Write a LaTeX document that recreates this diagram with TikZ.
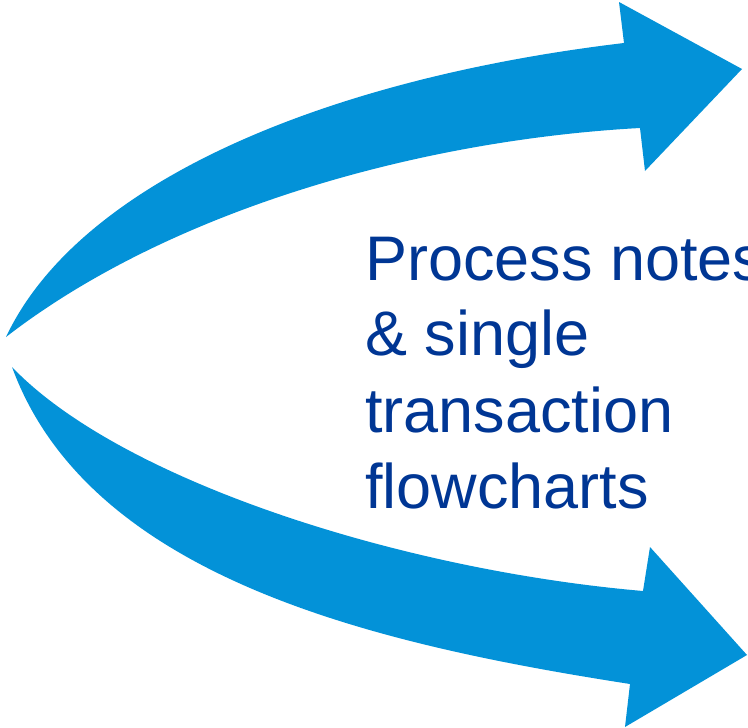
\documentclass[tikz,border=0pt]{standalone}
\usepackage{fontspec}
\setmainfont{Liberation Sans}
\definecolor{arrowblue}{RGB}{3,146,216}
\definecolor{textblue}{RGB}{0,54,148}
\begin{document}
\begin{tikzpicture}[x=1pt,y=-1pt,
  bigarrow/.style={fill=arrowblue,draw=none},
  label/.style={anchor=base west,inner sep=0pt,text=textblue,font=\fontsize{63}{76}\selectfont}]
\useasboundingbox (0,0) rectangle (748,728);
% top arrow
\fill[bigarrow] (6,337) .. controls (80,180) and (330,78) .. (624,43)
  -- (619,2) -- (742,69) -- (645,171) -- (640,128)
  .. controls (420,140) and (170,210) .. (6,337) -- cycle;
% bottom arrow
\fill[bigarrow] (12,367) .. controls (120,480) and (400,570) .. (643,591)
  -- (650,547) -- (747,655) -- (625,727) -- (630,684)
  .. controls (380,645) and (90,580) .. (12,367) -- cycle;
% text
\node[label] (l1) at (365,280) {Process notes};
\node[label] (l2) at (365,355) {\& single};
\node[label] (l3) at (365,432) {transaction};
\node[label] (l4) at (365,508) {flowcharts};
\end{tikzpicture}
\end{document}
